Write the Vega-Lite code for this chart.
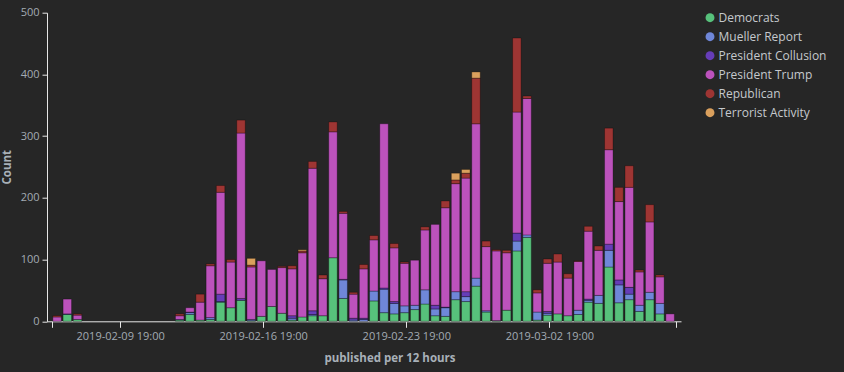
{
  "$schema": "https://vega.github.io/schema/vega-lite/v6.json",
  "autosize": "none",
  "width": 634,
  "height": 308.6,
  "padding": {"left": 47, "top": 12.7, "right": 163, "bottom": 50.7},
  "background": "#262626",
  "config": {"view": {"stroke": null}, "font": "Open Sans"},
  "data": {"values": [
    {"t": "2019-02-06T19:00", "President Trump": 7, "Republican": 2},
    {"t": "2019-02-07T07:00", "Democrats": 11, "Mueller Report": 1, "President Trump": 24},
    {"t": "2019-02-07T19:00", "Democrats": 3, "President Trump": 7, "Republican": 2},
    {"t": "2019-02-12T19:00", "Democrats": 2, "Mueller Report": 1, "President Trump": 6, "Republican": 3},
    {"t": "2019-02-13T07:00", "Democrats": 11, "Mueller Report": 3, "President Collusion": 1, "President Trump": 7},
    {"t": "2019-02-13T19:00", "Democrats": 2, "President Trump": 29, "Republican": 13},
    {"t": "2019-02-14T07:00", "Democrats": 3, "Mueller Report": 3, "President Trump": 84, "Republican": 3},
    {"t": "2019-02-14T19:00", "Democrats": 31, "Mueller Report": 1, "President Collusion": 12, "President Trump": 165, "Republican": 11},
    {"t": "2019-02-15T07:00", "Democrats": 22, "President Trump": 74, "Republican": 4},
    {"t": "2019-02-15T19:00", "Democrats": 34, "President Collusion": 3, "President Trump": 268, "Republican": 21},
    {"t": "2019-02-16T07:00", "Democrats": 1, "Mueller Report": 2, "President Trump": 85, "Republican": 3, "Terrorist Activity": 11},
    {"t": "2019-02-16T19:00", "Democrats": 8, "President Trump": 90},
    {"t": "2019-02-17T07:00", "Democrats": 24, "President Trump": 60},
    {"t": "2019-02-17T19:00", "Democrats": 13, "President Trump": 74, "Republican": 2},
    {"t": "2019-02-18T07:00", "Democrats": 2, "Mueller Report": 3, "President Collusion": 4, "President Trump": 76, "Republican": 5},
    {"t": "2019-02-18T19:00", "Democrats": 7, "President Trump": 104, "Republican": 3, "Terrorist Activity": 2},
    {"t": "2019-02-19T07:00", "Democrats": 9, "Mueller Report": 2, "President Collusion": 6, "President Trump": 231, "Republican": 11},
    {"t": "2019-02-19T19:00", "Democrats": 9, "President Trump": 60, "Republican": 6},
    {"t": "2019-02-20T07:00", "Democrats": 103, "President Trump": 204, "Republican": 16},
    {"t": "2019-02-20T19:00", "Democrats": 37, "Mueller Report": 30, "President Collusion": 1, "President Trump": 107, "Republican": 3},
    {"t": "2019-02-21T07:00", "Mueller Report": 2, "President Collusion": 3, "President Trump": 39, "Republican": 3},
    {"t": "2019-02-21T19:00", "Mueller Report": 3, "President Collusion": 2, "President Trump": 80, "Republican": 7},
    {"t": "2019-02-22T07:00", "Democrats": 33, "Mueller Report": 16, "President Trump": 83, "Republican": 7},
    {"t": "2019-02-22T19:00", "Democrats": 14, "Mueller Report": 38, "President Collusion": 2, "President Trump": 266},
    {"t": "2019-02-23T07:00", "Democrats": 12, "Mueller Report": 17, "President Collusion": 3, "President Trump": 87, "Republican": 7},
    {"t": "2019-02-23T19:00", "Democrats": 14, "Mueller Report": 11, "President Trump": 69, "Republican": 2},
    {"t": "2019-02-24T07:00", "Democrats": 19, "Mueller Report": 7, "President Trump": 73},
    {"t": "2019-02-24T19:00", "Democrats": 28, "Mueller Report": 23, "President Trump": 97, "Republican": 5},
    {"t": "2019-02-25T07:00", "Democrats": 9, "Mueller Report": 11, "President Collusion": 6, "President Trump": 131},
    {"t": "2019-02-25T19:00", "Democrats": 8, "Mueller Report": 14, "President Collusion": 1, "President Trump": 161, "Republican": 11},
    {"t": "2019-02-26T07:00", "Democrats": 35, "Mueller Report": 13, "President Trump": 175, "Republican": 6, "Terrorist Activity": 11},
    {"t": "2019-02-26T19:00", "Democrats": 32, "Mueller Report": 8, "President Collusion": 8, "President Trump": 184, "Republican": 8, "Terrorist Activity": 6},
    {"t": "2019-02-27T07:00", "Democrats": 57, "Mueller Report": 13, "President Trump": 250, "Republican": 74, "Terrorist Activity": 10},
    {"t": "2019-02-27T19:00", "Democrats": 15, "Mueller Report": 2, "President Trump": 104, "Republican": 9},
    {"t": "2019-02-28T07:00", "Democrats": 1, "President Trump": 113, "Republican": 2},
    {"t": "2019-02-28T19:00", "Democrats": 18, "President Trump": 93, "Republican": 4},
    {"t": "2019-03-01T07:00", "Democrats": 114, "Mueller Report": 16, "President Collusion": 13, "President Trump": 196, "Republican": 120},
    {"t": "2019-03-01T19:00", "Democrats": 136, "Mueller Report": 4, "President Trump": 221, "Republican": 4},
    {"t": "2019-03-02T07:00", "Democrats": 2, "Mueller Report": 13, "President Trump": 31, "Republican": 5},
    {"t": "2019-03-02T19:00", "Democrats": 10, "Mueller Report": 3, "President Collusion": 3, "President Trump": 78, "Republican": 7},
    {"t": "2019-03-03T07:00", "Democrats": 12, "President Trump": 84, "Republican": 13},
    {"t": "2019-03-03T19:00", "Democrats": 9, "President Trump": 61, "Republican": 7},
    {"t": "2019-03-04T07:00", "Democrats": 11, "Mueller Report": 7, "President Trump": 79, "Republican": 1},
    {"t": "2019-03-04T19:00", "Democrats": 31, "Mueller Report": 3, "President Collusion": 2, "President Trump": 110, "Republican": 8},
    {"t": "2019-03-05T07:00", "Democrats": 29, "Mueller Report": 13, "President Trump": 73, "Republican": 7},
    {"t": "2019-03-05T19:00", "Democrats": 88, "Mueller Report": 27, "President Collusion": 10, "President Trump": 153, "Republican": 35},
    {"t": "2019-03-06T07:00", "Democrats": 30, "Mueller Report": 29, "President Collusion": 8, "President Trump": 127, "Republican": 23},
    {"t": "2019-03-06T19:00", "Democrats": 35, "Mueller Report": 9, "President Collusion": 11, "President Trump": 162, "Republican": 35},
    {"t": "2019-03-07T07:00", "Democrats": 16, "Mueller Report": 10, "President Trump": 54, "Republican": 3},
    {"t": "2019-03-07T19:00", "Democrats": 35, "Mueller Report": 12, "President Trump": 114, "Republican": 28},
    {"t": "2019-03-08T07:00", "Democrats": 12, "Mueller Report": 17, "President Trump": 43, "Republican": 3},
    {"t": "2019-03-08T19:00", "President Trump": 12}
  ]},
  "transform": [
    {"fold": ["Democrats", "Mueller Report", "President Collusion", "President Trump", "Republican", "Terrorist Activity"], "as": ["term", "count"]},
    {"filter": "datum.count > 0"}
  ],
  "mark": {"type": "bar", "size": 8.5, "xOffset": -1.8, "stroke": "#000000", "strokeOpacity": 0.3, "strokeWidth": 1},
  "encoding": {
    "x": {
      "field": "t", "type": "temporal",
      "scale": {"domain": [
        {"year": 2019, "month": 2, "date": 6, "hours": 10, "minutes": 54},
        {"year": 2019, "month": 3, "date": 8, "hours": 23, "minutes": 48}
      ]},
      "axis": {
        "values": [
          {"year": 2019, "month": 2, "date": 6, "hours": 10, "minutes": 54},
          {"year": 2019, "month": 2, "date": 9, "hours": 19},
          {"year": 2019, "month": 2, "date": 16, "hours": 19},
          {"year": 2019, "month": 2, "date": 23, "hours": 19},
          {"year": 2019, "month": 3, "date": 2, "hours": 19},
          {"year": 2019, "month": 3, "date": 8, "hours": 23, "minutes": 48}
        ],
        "format": "%Y-%m-%d %H:%M",
        "labelExpr": "hours(datum.value) == 19 ? datum.label : ''",
        "title": "published per 12 hours",
        "titleFontWeight": "bold", "titleFontSize": 11.5, "titleColor": "#a8b0b8",
        "titleX": 342.5, "titleY": 37, "titleAlign": "center", "titleBaseline": "middle",
        "labelColor": "#a3abb3", "labelFontSize": 11, "labelPadding": 3, "labelFlush": false,
        "tickColor": "#e6e6e6", "domainColor": "#e6e6e6", "tickSize": 6, "grid": false
      }
    },
    "y": {
      "field": "count", "type": "quantitative", "stack": "zero",
      "scale": {"domain": [0, 500]},
      "axis": {
        "values": [0, 100, 200, 300, 400, 500],
        "title": "Count",
        "titleFontWeight": "bold", "titleFontSize": 11.5, "titleColor": "#a8b0b8",
        "titleX": -40, "titleY": 154, "titleAlign": "center", "titleBaseline": "middle", "titleAngle": -90,
        "labelColor": "#a3abb3", "labelFontSize": 11, "labelPadding": 3,
        "tickColor": "#e6e6e6", "domainColor": "#e6e6e6", "tickSize": 5, "grid": false
      }
    },
    "color": {
      "field": "term", "type": "nominal",
      "scale": {
        "domain": ["Democrats", "Mueller Report", "President Collusion", "President Trump", "Republican", "Terrorist Activity"],
        "range": ["#57c17b", "#6f87d8", "#663db8", "#bc52bc", "#9e3533", "#daa05d"]
      },
      "legend": {
        "title": null, "orient": "none", "legendX": 657, "legendY": -1,
        "symbolType": "circle", "symbolSize": 80, "symbolOpacity": 1, "symbolStrokeWidth": 0,
        "labelColor": "#c5c9cd", "labelFontSize": 12, "labelOffset": 2.5, "rowPadding": 7, "padding": 0
      }
    },
    "order": {"field": "term", "sort": "ascending"}
  }
}
